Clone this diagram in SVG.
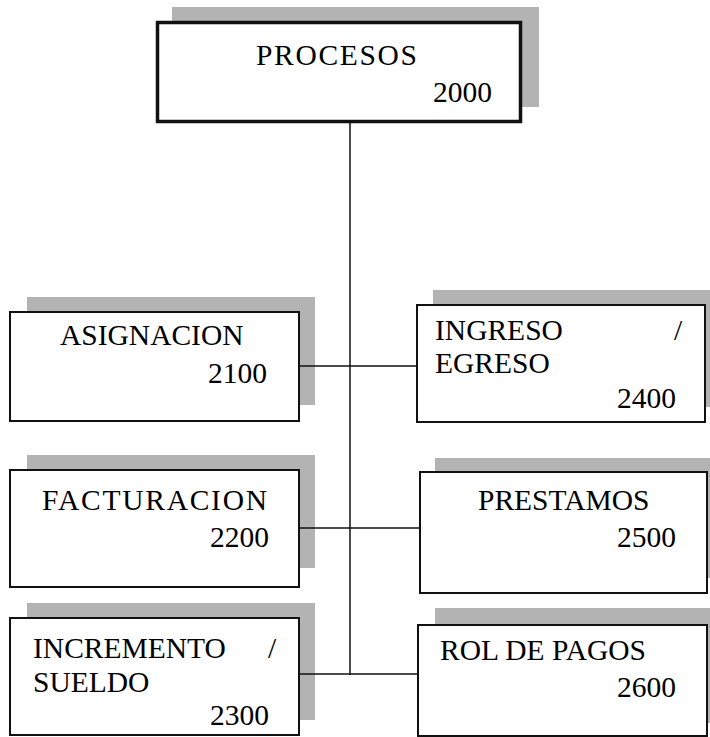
<svg xmlns="http://www.w3.org/2000/svg" width="710" height="737" viewBox="0 0 710 737">
<style>
.sh{fill:#b3b3b3}
.bx{fill:#fff;stroke:#111;stroke-width:2}
.t{font-family:"Liberation Serif","Times New Roman",serif;font-size:29.5px;fill:#000}
.c{stroke:#111;stroke-width:1.5;fill:none}
</style>
<rect width="710" height="737" fill="#fff"/>
<g id="n2000">
<rect class="sh" x="172" y="7" width="367" height="100"/>
<rect class="bx" x="157.5" y="22.5" width="363" height="99" style="stroke-width:3.5"/>
<text class="t" x="256" y="65" textLength="161">PROCESOS</text>
<text class="t" x="433" y="102">2000</text>
</g>
<g id="n2100">
<rect class="sh" x="27" y="297" width="288" height="108"/>
<rect class="bx" x="10" y="312" width="289" height="109"/>
<text class="t" x="60" y="345">ASIGNACION</text>
<text class="t" x="208" y="383">2100</text>
</g>
<g id="n2200">
<rect class="sh" x="27" y="455" width="288" height="113"/>
<rect class="bx" x="10" y="470" width="289" height="117"/>
<text class="t" x="42" y="510" textLength="225">FACTURACION</text>
<text class="t" x="210" y="547">2200</text>
</g>
<g id="n2300">
<rect class="sh" x="27" y="603" width="288" height="117"/>
<rect class="bx" x="10" y="618" width="289" height="117"/>
<text class="t" x="33" y="658">INCREMENTO</text>
<text class="t" x="268" y="658">/</text>
<text class="t" x="33" y="692">SUELDO</text>
<text class="t" x="210" y="725">2300</text>
</g>
<g id="n2400">
<rect class="sh" x="433" y="290" width="290" height="117"/>
<rect class="bx" x="417" y="305" width="288" height="117"/>
<text class="t" x="435" y="340">INGRESO</text>
<text class="t" x="674" y="340">/</text>
<text class="t" x="435" y="373">EGRESO</text>
<text class="t" x="617" y="408">2400</text>
</g>
<g id="n2500">
<rect class="sh" x="435" y="458" width="290" height="120"/>
<rect class="bx" x="420" y="472" width="287" height="121"/>
<text class="t" x="478" y="510">PRESTAMOS</text>
<text class="t" x="617" y="547">2500</text>
</g>
<g id="n2600">
<rect class="sh" x="435" y="608" width="290" height="115"/>
<rect class="bx" x="418" y="625" width="289" height="111"/>
<text class="t" x="440" y="660">ROL DE PAGOS</text>
<text class="t" x="617" y="697">2600</text>
</g>
<g id="connectors">
<line class="c" x1="350" y1="123" x2="350" y2="675"/>
<line class="c" x1="299" y1="366" x2="417" y2="366"/>
<line class="c" x1="299" y1="528" x2="420" y2="528"/>
<line class="c" x1="299" y1="674" x2="418" y2="674"/>
</g>
</svg>
